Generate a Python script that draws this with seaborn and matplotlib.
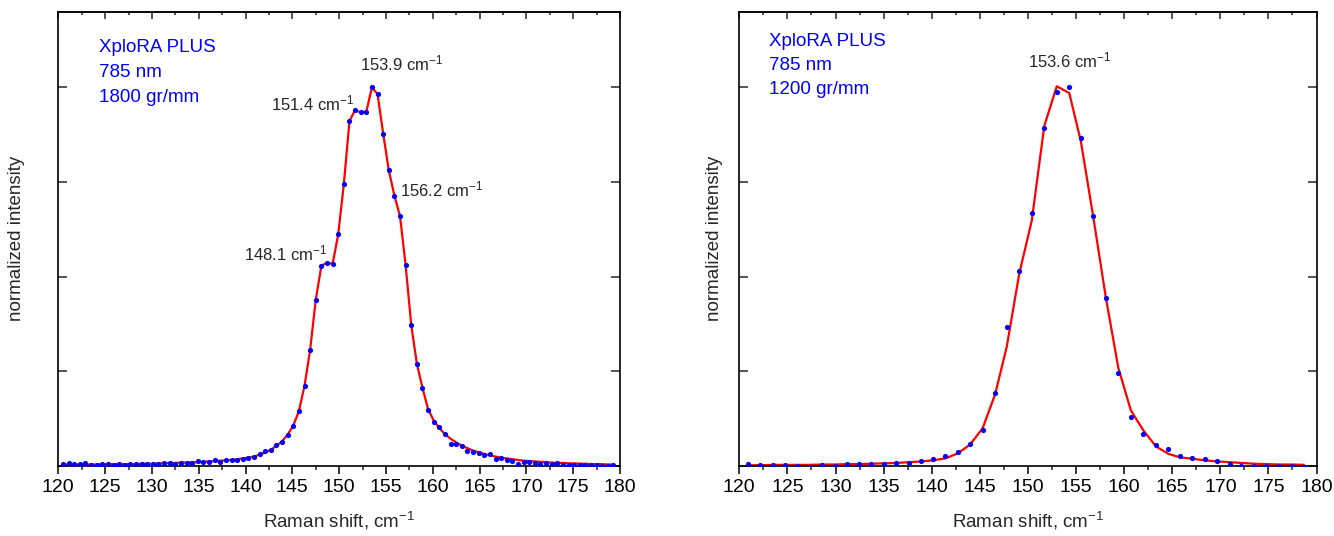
import matplotlib
matplotlib.use('Agg')
import matplotlib.pyplot as plt
import seaborn as sns
import pandas as pd
from matplotlib.ticker import MultipleLocator

# Raman spectra, normalized intensity
# left panel: 1800 gr/mm grating
shift_1800 = [120.5, 121.1, 121.7, 122.3, 122.9, 123.5, 124.1, 124.7, 125.3, 125.9,
              126.5, 127.1, 127.7, 128.3, 128.9, 129.5, 130.1, 130.7, 131.3, 131.9,
              132.5, 133.1, 133.7, 134.3, 134.9, 135.5, 136.1, 136.7, 137.3, 137.9,
              138.5, 139.1, 139.7, 140.3, 140.9, 141.5, 142.1, 142.7, 143.3, 143.9,
              144.5, 145.1, 145.7, 146.3, 146.9, 147.5, 148.1, 148.7, 149.3, 149.9,
              150.5, 151.1, 151.7, 152.3, 152.9, 153.5, 154.1, 154.7, 155.3, 155.9,
              156.5, 157.1, 157.7, 158.3, 158.9, 159.5, 160.1, 160.7, 161.3, 161.9,
              162.5, 163.1, 163.7, 164.3, 164.9, 165.5, 166.1, 166.7, 167.3, 167.9,
              168.5, 169.1, 169.7, 170.3, 170.9, 171.5, 172.1, 172.7, 173.3, 173.9,
              174.5, 175.1, 175.7, 176.3, 176.9, 177.5, 178.1, 178.7, 179.3]
meas_1800 = [0.005, 0.008, 0.005, 0.006, 0.009, 0.002, 0.003, 0.006, 0.005, 0.003,
             0.004, 0.003, 0.005, 0.005, 0.004, 0.005, 0.006, 0.006, 0.007, 0.007,
             0.006, 0.009, 0.008, 0.008, 0.012, 0.010, 0.011, 0.017, 0.011, 0.016,
             0.016, 0.015, 0.019, 0.020, 0.024, 0.033, 0.040, 0.041, 0.055, 0.063,
             0.083, 0.105, 0.145, 0.212, 0.307, 0.439, 0.529, 0.537, 0.534, 0.612,
             0.745, 0.911, 0.940, 0.934, 0.936, 1.000, 0.982, 0.878, 0.781, 0.714,
             0.660, 0.530, 0.372, 0.270, 0.206, 0.147, 0.117, 0.103, 0.084, 0.059,
             0.059, 0.053, 0.040, 0.037, 0.035, 0.030, 0.031, 0.019, 0.020, 0.017,
             0.014, 0.004, 0.011, 0.010, 0.009, 0.005, 0.007, 0.004, 0.007, 0.003,
             0.003, 0.003, 0.003, 0.003, 0.002, 0.003, 0.000, 0.001, 0.003]
fit_1800 = [0.004, 0.004, 0.004, 0.004, 0.004, 0.004, 0.004, 0.005, 0.005, 0.005,
            0.005, 0.005, 0.005, 0.005, 0.006, 0.006, 0.006, 0.007, 0.007, 0.008,
            0.008, 0.009, 0.009, 0.010, 0.010, 0.011, 0.012, 0.013, 0.014, 0.015,
            0.016, 0.018, 0.020, 0.022, 0.025, 0.030, 0.036, 0.043, 0.053, 0.065,
            0.083, 0.107, 0.145, 0.212, 0.307, 0.439, 0.529, 0.537, 0.534, 0.612,
            0.745, 0.911, 0.940, 0.934, 0.936, 1.000, 0.982, 0.878, 0.781, 0.714,
            0.660, 0.530, 0.372, 0.270, 0.206, 0.150, 0.120, 0.100, 0.084, 0.072,
            0.062, 0.054, 0.047, 0.041, 0.036, 0.032, 0.028, 0.025, 0.022, 0.020,
            0.018, 0.016, 0.014, 0.013, 0.012, 0.011, 0.010, 0.009, 0.008, 0.008,
            0.007, 0.007, 0.006, 0.006, 0.005, 0.005, 0.005, 0.004, 0.004]

# right panel: 1200 gr/mm grating
shift_1200 = [120.9, 122.2, 123.5, 124.7, 126.0, 127.3, 128.6, 129.9, 131.2, 132.4,
              133.7, 135.0, 136.3, 137.6, 138.9, 140.1, 141.4, 142.7, 144.0, 145.3,
              146.6, 147.8, 149.1, 150.4, 151.7, 153.0, 154.3, 155.5, 156.8, 158.1,
              159.4, 160.7, 162.0, 163.3, 164.6, 165.8, 167.1, 168.4, 169.7, 171.0,
              172.2, 173.5, 174.8, 176.1, 177.4, 178.7]
meas_1200 = [0.005, 0.002, 0.003, 0.002, 0.001, -0.002, 0.002, -0.001, 0.006, 0.006,
             0.006, 0.006, 0.009, 0.008, 0.013, 0.018, 0.026, 0.038, 0.058, 0.096,
             0.193, 0.366, 0.515, 0.668, 0.894, 0.989, 1.000, 0.867, 0.660, 0.445,
             0.245, 0.130, 0.084, 0.055, 0.044, 0.027, 0.022, 0.019, 0.012, 0.006,
             0.001, 0.001, 0.000, 0.001, 0.000, -0.002]
fit_1200 = [0.002, 0.002, 0.003, 0.003, 0.003, 0.003, 0.004, 0.004, 0.005, 0.005,
            0.006, 0.007, 0.008, 0.010, 0.012, 0.015, 0.020, 0.033, 0.057, 0.100,
            0.190, 0.315, 0.508, 0.648, 0.898, 1.003, 0.985, 0.858, 0.657, 0.445,
            0.259, 0.147, 0.094, 0.052, 0.032, 0.023, 0.019, 0.015, 0.012, 0.010,
            0.008, 0.006, 0.005, 0.004, 0.004, 0.003]

info_1800 = ['XploRA PLUS', '785 nm', '1800 gr/mm']
info_1200 = ['XploRA PLUS', '785 nm', '1200 gr/mm']
peaks_1800 = [(153.9, 156.7, 1.062), (151.4, 147.2, 0.958), (156.2, 160.9, 0.730), (148.1, 144.3, 0.561)]
peaks_1200 = [(153.6, 154.3, 1.07)]

sns.set_style('ticks')
plt.rcParams['font.family'] = ['Liberation Sans', 'DejaVu Sans']
plt.rcParams['mathtext.default'] = 'regular'

fig = plt.figure(figsize=(13.34, 5.36), dpi=100)
ax1 = fig.add_axes([0.0437, 0.1306, 0.4211, 0.8476])
ax2 = fig.add_axes([0.5542, 0.1306, 0.4327, 0.8476])


def draw(ax, x, y, fit, info, peaks, info_x, info_y, ylab_x):
    df = pd.DataFrame({'x': x, 'y': y, 'fit': fit})
    sns.lineplot(data=df, x='x', y='fit', ax=ax, color='red', lw=1.6, sort=True)
    sns.scatterplot(data=df, x='x', y='y', ax=ax, color='blue', s=14, linewidth=0, zorder=3)
    ax.set_xlim(120, 180)
    ax.set_ylim(0, 1.2)
    ax.xaxis.set_major_locator(MultipleLocator(5))
    ax.xaxis.set_minor_locator(MultipleLocator(2.5))
    ax.yaxis.set_major_locator(MultipleLocator(0.25))
    ax.set_yticklabels([])
    ax.tick_params(axis='x', which='major', direction='out', length=6, width=1.1, labelsize=14, colors='black')
    ax.tick_params(axis='x', which='minor', direction='out', length=3, width=1.1)
    ax.tick_params(axis='y', which='both', direction='in', length=6.5, width=1.1, left=True, right=True)
    top = ax.secondary_xaxis('top')
    top.xaxis.set_major_locator(MultipleLocator(5))
    top.xaxis.set_minor_locator(MultipleLocator(2.5))
    top.tick_params(which='major', direction='in', length=5, width=1.1, labeltop=False)
    top.tick_params(which='minor', direction='in', length=2.5, width=1.1)
    top.set_xticklabels([])
    for s in ax.spines.values():
        s.set_visible(True)
        s.set_linewidth(1.2)
        s.set_color('black')
    top.spines['top'].set_linewidth(1.2)
    ax.set_xlabel('Raman shift, cm$^{-1}$', fontsize=13.5, labelpad=10)
    ax.set_ylabel('normalized intensity', fontsize=13.5)
    ax.yaxis.set_label_coords(ylab_x, 0.5)
    for k, line in enumerate(info):
        ax.text(info_x, info_y[k], line, transform=ax.transAxes, color='blue',
                fontsize=13.5, ha='left', va='center')
    for val, tx, ty in peaks:
        ax.text(tx, ty, f'{val} cm$^{{-1}}$', fontsize=12, ha='center', va='center')


draw(ax1, shift_1800, meas_1800, fit_1800, info_1800, peaks_1800, 0.072, [0.922, 0.867, 0.812], -0.059)
draw(ax2, shift_1200, meas_1200, fit_1200, info_1200, peaks_1200, 0.051, [0.934, 0.881, 0.829], -0.028)

fig.savefig('out.png', dpi=100)
